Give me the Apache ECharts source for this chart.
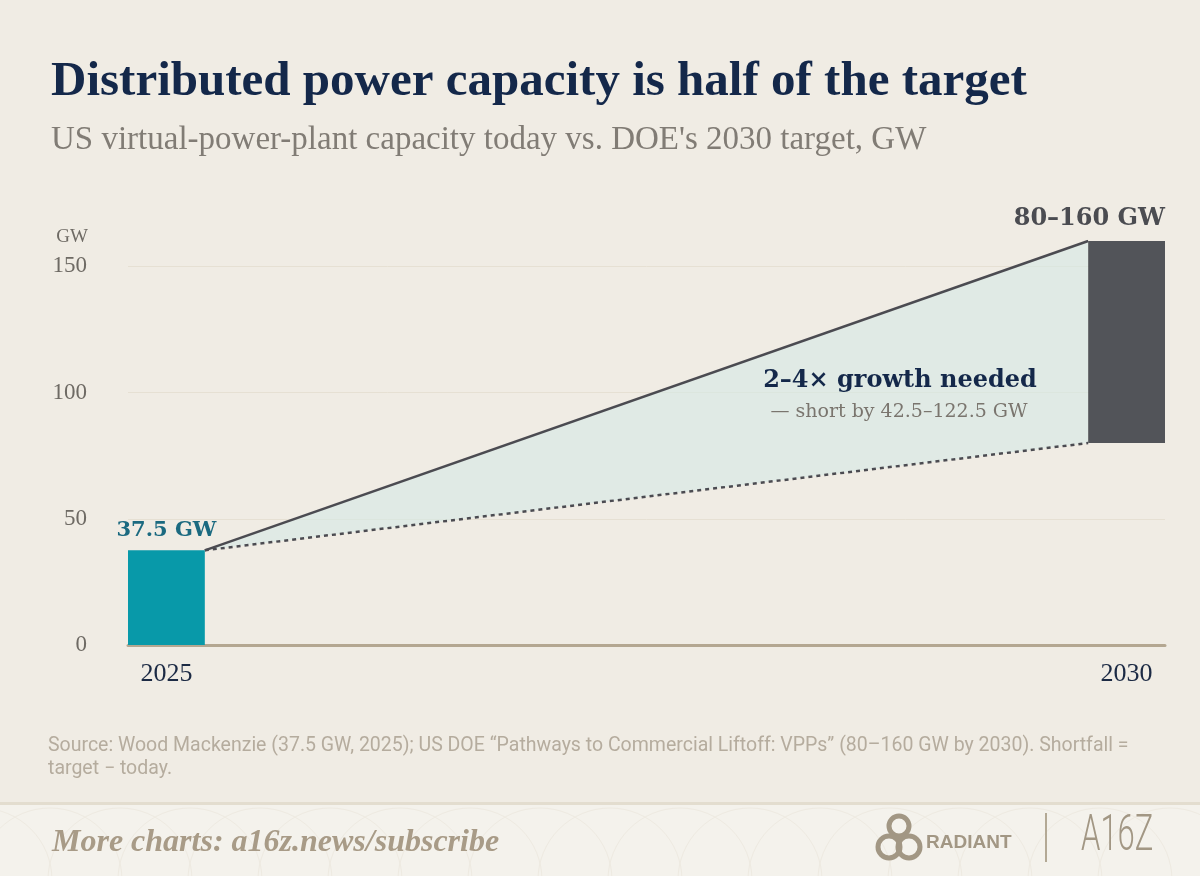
<!DOCTYPE html>
<html lang="en">
<head>
<meta charset="UTF-8" />
<title>Distributed power capacity is half of the target</title>
<script src="https://cdn.jsdelivr.net/npm/echarts@6/dist/echarts.min.js"></script>
<style>
  html, body { margin: 0; padding: 0; background: #f0ece4; }
  #main { width: 1200px; height: 876px; }
</style>
</head>
<body>
<div id="main"></div>
<script>
// data
const categories = ['2025', '2030'];
const years = [2025, 2030];
const todayGW = 37.5;          // Wood Mackenzie, 2025
const targetGW = [80, 160];    // DOE 2030 target range
const shortfallGW = [42.5, 122.5];
const yTicks = [0, 50, 100, 150];

// bars as [year, from, to]
const barRows = [
    [years[0], 0, todayGW],
    [years[1], targetGW[0], targetGW[1]]
];
const barLabels = [todayGW + ' GW', targetGW[0] + '–' + targetGW[1] + ' GW'];

const halfBar = 0.2; // bar half width, in years
const x0 = years[0] + halfBar;   // right edge of the 2025 bar
const x1 = years[1] - halfBar;   // left edge of the 2030 bar

const serif = "'Liberation Serif', serif";
const wideSerif = "'DejaVu Serif', serif";
const sans = "Roboto, 'Noto Sans', sans-serif";

let myChart = echarts.init(document.getElementById('main'));

function renderBar(params, api) {
    const yr = api.value(0), lo = api.value(1), hi = api.value(2);
    const a = api.coord([yr - halfBar, hi]);
    const b = api.coord([yr + halfBar, lo]);
    const first = params.dataIndex === 0;
    return {
        type: 'group',
        children: [
            {
                type: 'rect',
                shape: { x: a[0], y: a[1], width: b[0] - a[0], height: b[1] - a[1] },
                style: { fill: first ? '#0899a9' : '#525459' }
            },
            {
                type: 'text',
                style: {
                    x: first ? (a[0] + b[0]) / 2 : b[0],
                    y: a[1] - (first ? 20 : 22),
                    text: barLabels[params.dataIndex],
                    align: first ? 'center' : 'right',
                    verticalAlign: 'middle',
                    font: 'bold ' + (first ? 21 : 24) + 'px ' + wideSerif,
                    fill: first ? '#1b6a80' : '#4b4c51'
                }
            }
        ]
    };
}

function renderBand(params, api) {
    const p = api.coord([x0, todayGW]);
    const hi = api.coord([x1, targetGW[1]]);
    const lo = api.coord([x1, targetGW[0]]);
    return {
        type: 'polygon',
        shape: { points: [p, hi, lo] },
        style: { fill: 'rgba(214,234,230,0.6)' }
    };
}

// faint fan pattern in the footer
const footerArcs = [];
for (let cx = -20; cx < 1240; cx += 70) {
    footerArcs.push({
        type: 'arc', z: 1, silent: true,
        shape: { cx: cx, cy: 880, r: 72, startAngle: Math.PI, endAngle: Math.PI * 2 },
        style: { fill: 'none', stroke: '#eeeae1', lineWidth: 1 }
    });
}

myChart.setOption({
    backgroundColor: '#f0ece4',
    animation: false,
    title: {
        left: 46,
        top: 53,
        text: 'Distributed power capacity is half of the target',
        subtext: "US virtual-power-plant capacity today vs. DOE's 2030 target, GW",
        itemGap: 17,
        textStyle: { fontFamily: serif, fontWeight: 'bold', fontSize: 49, color: '#14284a' },
        subtextStyle: { fontFamily: serif, fontSize: 33, color: '#817c75' }
    },
    grid: { left: 128, right: 35, top: 241, bottom: 231 },
    xAxis: {
        type: 'value',
        min: years[0] - halfBar,
        max: years[1] + halfBar,
        axisLine: { show: true, lineStyle: { color: '#b4a791', width: 3 } },
        axisTick: { show: false },
        splitLine: { show: false },
        axisLabel: {
            customValues: years,
            formatter: v => categories[years.indexOf(v)] || '',
            margin: 16,
            fontFamily: serif, fontSize: 26, color: '#1c2a44'
        }
    },
    yAxis: {
        type: 'value',
        min: 0,
        max: targetGW[1],
        interval: 50,
        name: 'GW',
        nameLocation: 'end',
        nameGap: 4,
        nameTextStyle: { align: 'right', verticalAlign: 'middle', padding: [0, 40, 0, 0], fontFamily: serif, fontSize: 19, color: '#6e6a64' },
        axisLine: { show: false },
        axisTick: { show: false },
        axisLabel: {
            showMaxLabel: false,
            margin: 41,
            formatter: v => yTicks.indexOf(v) >= 0 ? String(v) : '',
            fontFamily: serif, fontSize: 23, color: '#6e6a64'
        },
        splitLine: {
            show: true,
            lineStyle: { color: ['#e6e0d3', '#e6e0d3', '#e6e0d3', '#e6e0d3', 'transparent'], width: 1 }
        }
    },
    series: [
        {
            name: 'gap',
            type: 'custom',
            z: 1,
            renderItem: renderBand,
            data: [[x0, todayGW]],
            encode: { x: 0, y: 1 }
        },
        {
            name: 'low target',
            type: 'line',
            z: 3,
            symbol: 'none',
            data: [[x0, todayGW], [x1, targetGW[0]]],
            lineStyle: { color: '#4b4b51', width: 2.5, type: [4, 4] }
        },
        {
            name: 'high target',
            type: 'line',
            z: 3,
            symbol: 'none',
            data: [[x0, todayGW], [x1, targetGW[1]]],
            lineStyle: { color: '#4b4b51', width: 2.5 }
        },
        {
            name: 'capacity',
            type: 'custom',
            z: 5,
            renderItem: renderBar,
            data: barRows,
            encode: { x: 0, y: [1, 2] }
        }
    ],
    graphic: [
        {
            type: 'text', z: 10,
            style: {
                x: 900, y: 381,
                text: '2–4× growth needed',
                align: 'center', verticalAlign: 'middle',
                font: "bold 24px " + wideSerif, fill: '#14284a'
            }
        },
        {
            type: 'text', z: 10,
            style: {
                x: 899, y: 412,
                text: '— short by ' + shortfallGW[0] + '–' + shortfallGW[1] + ' GW',
                align: 'center', verticalAlign: 'middle',
                font: "19px " + wideSerif, fill: '#7a756e'
            }
        },
        {
            type: 'text', z: 10,
            style: {
                x: 48, y: 735,
                text: 'Source: Wood Mackenzie (37.5 GW, 2025); US DOE “Pathways to Commercial Liftoff: VPPs” (80–160 GW by 2030). Shortfall =\ntarget − today.',
                verticalAlign: 'top', lineHeight: 23,
                font: "19.5px " + sans, fill: '#b5ac9e'
            }
        },
        // footer band
        {
            type: 'rect', z: 0,
            shape: { x: 0, y: 803, width: 1200, height: 73 },
            style: { fill: '#f4f2ec' }
        }
    ].concat(footerArcs, [
        {
            type: 'rect', z: 2,
            shape: { x: 0, y: 802, width: 1200, height: 3 },
            style: { fill: '#e3ddcf' }
        },
        {
            type: 'text', z: 10,
            style: {
                x: 52, y: 843,
                text: 'More charts: a16z.news/subscribe',
                verticalAlign: 'middle',
                font: "italic bold 32px " + serif, fill: '#a89b87'
            }
        },
        // radiant mark
        { type: 'circle', z: 10, shape: { cx: 899, cy: 826, r: 10 }, style: { fill: 'none', stroke: '#a29784', lineWidth: 5 } },
        { type: 'circle', z: 10, shape: { cx: 889, cy: 847, r: 11 }, style: { fill: 'none', stroke: '#a29784', lineWidth: 5 } },
        { type: 'circle', z: 10, shape: { cx: 909, cy: 847, r: 11 }, style: { fill: 'none', stroke: '#a29784', lineWidth: 5 } },
        {
            type: 'text', z: 10,
            style: { x: 926, y: 843, text: 'RADIANT', verticalAlign: 'middle', font: "bold 19px 'Liberation Sans', sans-serif", fill: '#a29784' }
        },
        { type: 'rect', z: 10, shape: { x: 1045, y: 813, width: 2, height: 49 }, style: { fill: '#b3a995' } },
        {
            type: 'text', z: 10, x: 1081, y: 837, scaleX: 0.62,
            style: { x: 0, y: 0, text: 'A16Z', verticalAlign: 'middle', font: "300 50px " + sans, fill: '#a29784' }
        }
    ])
});
</script>
</body>
</html>
